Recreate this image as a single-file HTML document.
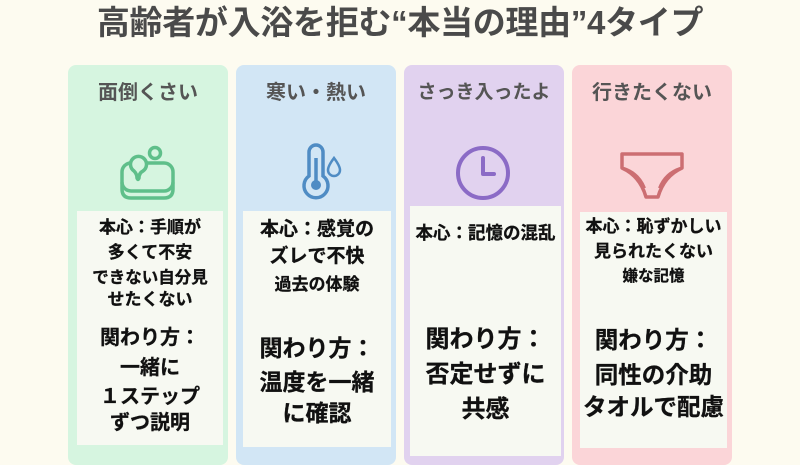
<!DOCTYPE html>
<html><head><meta charset="utf-8"><style>
body{margin:0;width:800px;height:450px;background:#fdfbf0;position:relative;overflow:hidden;font-family:"Liberation Sans","Noto Sans CJK JP",sans-serif;}
.t{position:absolute;left:0;width:800px;top:5px;height:36px;line-height:36px;text-align:center;font-size:33px;font-weight:bold;color:#4a4a4a;letter-spacing:-0.3px;}
.col{position:absolute;top:65px;height:400px;border-radius:8px;}
.h{position:absolute;top:78px;height:30px;line-height:30px;text-align:center;font-weight:bold;color:#555;white-space:nowrap;}
.box{position:absolute;background:#f7f9f2;}
.l{position:absolute;left:-10px;width:calc(100% + 20px);height:30px;line-height:30px;text-align:center;font-weight:bold;color:#111;white-space:nowrap;-webkit-text-stroke:0.3px #111;}
</style></head><body>
<div class="t">高齢者が入浴を拒む“本当の理由”4タイプ</div>

<div class="col" style="left:68px;width:160px;background:#d6f5e0"></div>
<div class="col" style="left:236px;width:160px;background:#d2e6f5"></div>
<div class="col" style="left:404px;width:160px;background:#e1d2ef"></div>
<div class="col" style="left:572px;width:160px;background:#fbd5d8"></div>

<div class="h" style="left:68px;width:160px;font-size:20px">面倒くさい</div>
<div class="h" style="left:236px;width:160px;font-size:20px">寒い・熱い</div>
<div class="h" style="left:404px;width:160px;font-size:19px">さっき入ったよ</div>
<div class="h" style="left:572px;width:160px;font-size:20px">行きたくない</div>

<svg style="position:absolute;left:0;top:0" width="800" height="450">
<g fill="none" stroke="#5fbf8a" stroke-width="3.5" stroke-linecap="round">
<rect x="122" y="163" width="51" height="28" rx="9"/>
<path d="M122 183 v6 q0 9 9 9 h33 q9 0 9-9 v-6"/>
<circle cx="155" cy="153" r="5.5"/>
<path d="M134 171 a8 8 0 1 1 9 0 q-4 2 -4 7 q-1 3 -2 0 q0-4 -3-7z" fill="#d6f5e0"/>
</g>
<g fill="none" stroke="#4f8cc4" stroke-width="3.5">
<path d="M309 152 a7 7 0 0 1 14 0 v24 a12 12 0 1 1 -14 0z"/>
<line x1="316" y1="158" x2="316" y2="182"/>
</g>
<circle cx="316" cy="185" r="5" fill="#4f8cc4"/>
<path d="M334 158 q-6 8 -6 12 a6 6 0 0 0 12 0 q0-4 -6-12z" fill="none" stroke="#4f8cc4" stroke-width="2.5"/>
<circle cx="483" cy="173" r="25" fill="none" stroke="#8b6bc6" stroke-width="4"/>
<path d="M483 158 v16 h11" fill="none" stroke="#8b6bc6" stroke-width="4" stroke-linecap="round" stroke-linejoin="round"/>
<g fill="none" stroke="#cc6e72" stroke-width="3.5" stroke-linejoin="round">
<path d="M622 154 h60 v14 q-18 8 -24 29 h-12 q-6 -21 -24 -29z"/>
<path d="M624 168 q15 5 21 20 M680 168 q-15 5 -21 20" stroke-width="2"/>
</g>
</svg>

<div class="box" style="left:77px;top:211px;width:146px;height:234px"></div>
<div class="box" style="left:243px;top:211px;width:148px;height:236px"></div>
<div class="box" style="left:410px;top:206px;width:151px;height:250px"></div>
<div class="box" style="left:580px;top:212px;width:147px;height:236px"></div>

<div style="position:absolute;left:77px;width:146px;top:0">
<div class="l" style="top:213px;font-size:17px">本心：手順が</div>
<div class="l" style="top:238px;font-size:17px">多くて不安</div>
<div class="l" style="top:263px;font-size:16.5px">できない自分見</div>
<div class="l" style="top:285px;font-size:17px">せたくない</div>
<div class="l" style="top:323px;font-size:20px">関わり方：</div>
<div class="l" style="top:353px;font-size:20px">一緒に</div>
<div class="l" style="top:382px;font-size:20px">１ステップ</div>
<div class="l" style="top:408px;font-size:20px">ずつ説明</div>
</div>

<div style="position:absolute;left:243px;width:148px;top:0">
<div class="l" style="top:215px;font-size:19px">本心：感覚の</div>
<div class="l" style="top:242px;font-size:19px">ズレで不快</div>
<div class="l" style="top:270px;font-size:17px">過去の体験</div>
<div class="l" style="top:333px;font-size:23px">関わり方：</div>
<div class="l" style="top:367px;font-size:23px">温度を一緒</div>
<div class="l" style="top:398px;font-size:23px">に確認</div>
</div>

<div style="position:absolute;left:410px;width:151px;top:0">
<div class="l" style="top:218px;font-size:17.5px">本心：記憶の混乱</div>
<div class="l" style="top:325px;font-size:24px">関わり方：</div>
<div class="l" style="top:360px;font-size:24px">否定せずに</div>
<div class="l" style="top:395px;font-size:24px">共感</div>
</div>

<div style="position:absolute;left:580px;width:147px;top:0">
<div class="l" style="top:212px;font-size:17px">本心：恥ずかしい</div>
<div class="l" style="top:237px;font-size:17px">見られたくない</div>
<div class="l" style="top:262px;font-size:15.5px">嫌な記憶</div>
<div class="l" style="top:325px;font-size:23.5px">関わり方：</div>
<div class="l" style="top:360px;font-size:23.5px">同性の介助</div>
<div class="l" style="top:392px;font-size:23.5px">タオルで配慮</div>
</div>
</body></html>
